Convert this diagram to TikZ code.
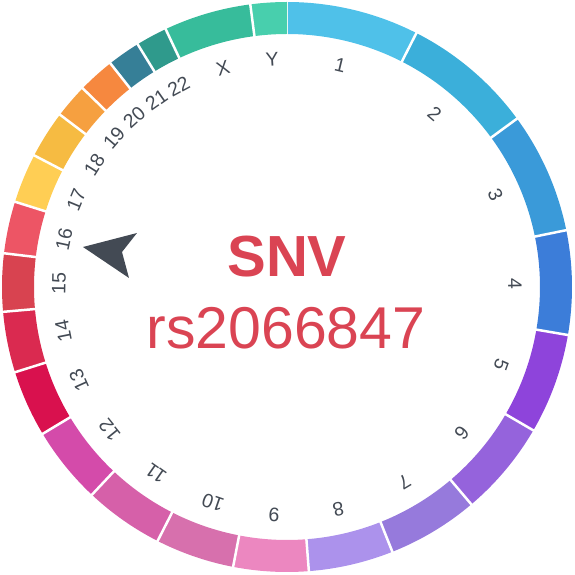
\documentclass[tikz,border=0pt]{standalone}
\usepackage{fontspec}
\setmainfont{Liberation Sans}
\definecolor{c1}{HTML}{4FC1E9}
\definecolor{c2}{HTML}{3BAFDA}
\definecolor{c3}{HTML}{3A9AD9}
\definecolor{c4}{HTML}{3C7DD9}
\definecolor{c5}{HTML}{8E44DB}
\definecolor{c6}{HTML}{9563DC}
\definecolor{c7}{HTML}{967ADC}
\definecolor{c8}{HTML}{AC92EC}
\definecolor{c9}{HTML}{EC87C0}
\definecolor{c10}{HTML}{D770AD}
\definecolor{c11}{HTML}{D660A9}
\definecolor{c12}{HTML}{D44BAA}
\definecolor{c13}{HTML}{D9114E}
\definecolor{c14}{HTML}{DA2A50}
\definecolor{c15}{HTML}{D84350}
\definecolor{c16}{HTML}{ED5565}
\definecolor{c17}{HTML}{FFCE54}
\definecolor{c18}{HTML}{F6BB42}
\definecolor{c19}{HTML}{F6A040}
\definecolor{c20}{HTML}{F6883F}
\definecolor{c21}{HTML}{367F97}
\definecolor{c22}{HTML}{2F9A8C}
\definecolor{cX}{HTML}{37BC9B}
\definecolor{cY}{HTML}{48CFAD}
\definecolor{labgray}{HTML}{434A54}
\definecolor{snvred}{HTML}{DA4453}
\tikzset{
  chrlabel/.style={text=labgray, font=\fontsize{19.5}{19.5}\selectfont, inner sep=0pt, anchor=center},
  sep/.style={white, line width=2.5pt},
  titletext/.style={text=snvred, inner sep=0pt, anchor=base}
}
\begin{document}
\begin{tikzpicture}[x=1pt,y=1pt]
\useasboundingbox (-287,-288) rectangle (287,287);
\foreach \a/\b/\col/\lab [count=\i] in {
  0/27/c1/1, 27/53.8/c2/2, 53.8/78.5/c3/3, 78.5/99.7/c4/4,
  99.7/120.2/c5/5, 120.2/139.7/c6/6, 139.7/158.3/c7/7, 158.3/175.6/c8/8,
  175.6/190.9/c9/9, 190.9/207/c10/10, 207/223.2/c11/11, 223.2/239/c12/12,
  239/252.6/c13/13, 252.6/265/c14/14, 265/276.8/c15/15, 276.8/287.4/c16/16,
  287.4/297.5/c17/17, 297.5/307.2/c18/18, 307.2/314.2/c19/19, 314.2/321.7/c20/20,
  321.7/328.4/c21/21, 328.4/334.8/c22/22, 334.8/352.6/cX/X, 352.6/360/cY/Y}
{
  \pgfmathsetmacro{\sa}{90-\a}
  \pgfmathsetmacro{\sb}{90-\b}
  \pgfmathsetmacro{\mid}{(\a+\b)/2}
  \pgfmathsetmacro{\pm}{90-\mid}
  \fill[\col] (\sa:285) arc[start angle=\sa, end angle=\sb, radius=285]
    -- (\sb:253) arc[start angle=\sb, end angle=\sa, radius=253] -- cycle;
  \draw[sep] (\sa:250) -- (\sa:289);
  \node[chrlabel, rotate=-\mid] (lab\i) at (\pm:228) {\lab};
}
\node[titletext, font=\fontsize{58}{58}\selectfont\bfseries] (snv) at (0,10) {SNV};
\node[titletext, font=\fontsize{59}{59}\selectfont] (rsid) at (-1,-62) {rs2066847};
\fill[labgray] (-204,40) -- (-150,54) -- (-165,35) -- (-158,9) -- cycle;
\end{tikzpicture}
\end{document}
